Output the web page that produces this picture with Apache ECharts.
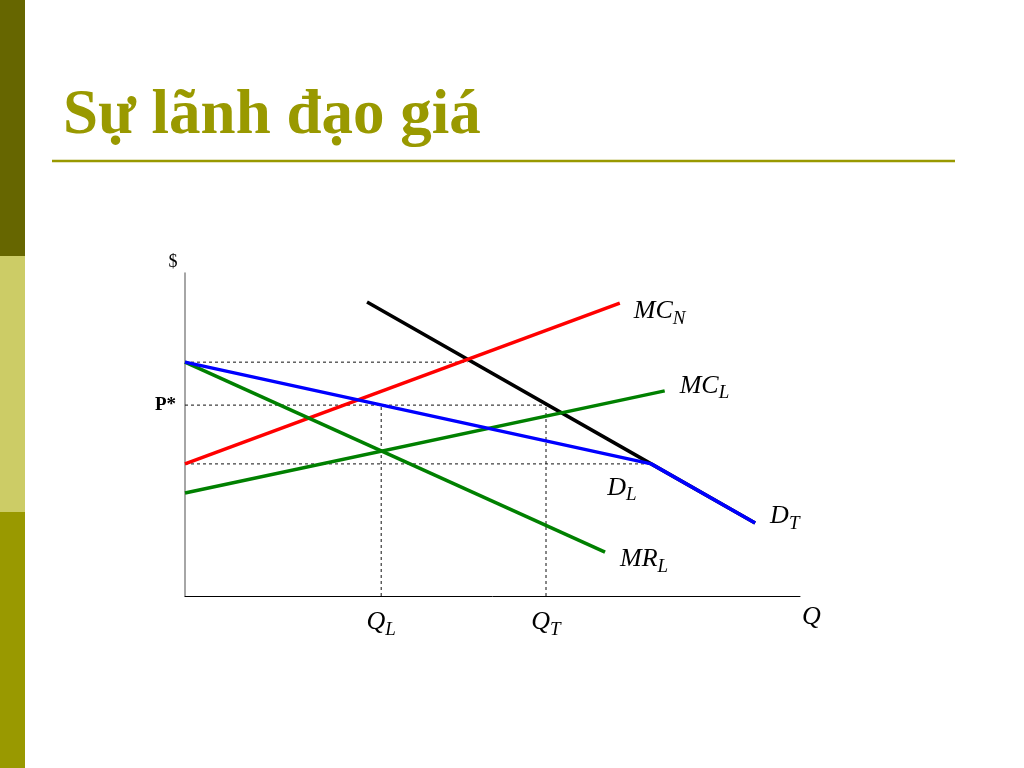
<!DOCTYPE html>
<html><head><meta charset="utf-8">
<script src="https://cdn.jsdelivr.net/npm/echarts@6/dist/echarts.min.js"></script>
<style>html,body{margin:0;padding:0;background:#fff}#c{width:1024px;height:768px}</style>
</head><body><div id="c"></div>
<script>
// ---- data (arbitrary units) ----
const titleText = 'Sự lãnh đạo giá';
const QL = 31.9, QT = 58.7, PSTAR = 59.1;
const dTotal  = [[29.6, 91.0], [75.8, 40.9], [92.7, 22.6]];
const dLeader = [[0, 72.4], [75.8, 40.9], [92.7, 22.6]];
const mcN = [[0, 40.9], [70.7, 90.7]];
const mcL = [[0, 31.9], [78.0, 63.5]];
const mrL = [[0, 72.4], [68.3, 13.6]];
const guides = [
  [[0, 72.4], [45.9, 72.4]],
  [[0, PSTAR], [QT, PSTAR]],
  [[0, 40.9], [75.8, 40.9]],
  [[QL, 0], [QL, PSTAR]],
  [[QT, 0], [QT, PSTAR]]
];
const xTickLabels = {[QL]: '{m|Q}{s|L}', [QT]: '{m|Q}{s|T}'};
const yTickLabels = {[PSTAR]: 'P*'};

// ---- styling ----
const SERIF = 'Liberation Serif';
const rich = {
  m: {fontFamily: SERIF, fontStyle: 'italic', fontSize: 26, lineHeight: 30, color: '#000', opacity: 1},
  s: {fontFamily: SERIF, fontStyle: 'italic', fontSize: 19, lineHeight: 19, padding: [15, 0, 0, 0], color: '#000', opacity: 1}
};
const curveLabels = [
  {point: mcN[mcN.length - 1], text: '{m|MC}{s|N}', offset: [14, 8]},
  {point: mcL[mcL.length - 1], text: '{m|MC}{s|L}', offset: [15, -5]},
  {point: dTotal[dTotal.length - 1], text: '{m|D}{s|T}', offset: [15, -7]},
  {point: mrL[mrL.length - 1], text: '{m|MR}{s|L}', offset: [15, 7]},
  {point: dLeader[1], text: '{m|D}{s|L}', offset: [-44, 24]}
];

const guideSeries = guides.map(g => ({
  type: 'line', data: g, symbol: 'none', silent: true, z: 1,
  lineStyle: {color: '#111', width: 1, type: [3, 3]}
}));
function curve(data, color, z) {
  return {type: 'line', data, symbol: 'none', silent: true, z,
    lineStyle: {color, width: 3.5}};
}

const chart = echarts.init(document.getElementById('c'), null, {renderer: 'canvas'});
chart.setOption({
  backgroundColor: '#fff',
  animation: false,
  grid: {left: 185, top: 273, width: 615, height: 323},
  xAxis: {
    type: 'value', min: 0, max: 100,
    name: '{m|Q}', nameLocation: 'end', nameGap: 2,
    nameTextStyle: {rich, color: '#000', padding: [42, 0, 0, 0]},
    axisLine: {show: true, lineStyle: {color: '#000', width: 1}},
    axisTick: {show: false}, splitLine: {show: false},
    axisLabel: {
      customValues: [QL, QT], margin: 11, rich, color: '#000',
      formatter: v => xTickLabels[v] || ''
    }
  },
  yAxis: {
    type: 'value', min: 0, max: 100,
    name: '$', nameLocation: 'end', nameGap: 2,
    nameTextStyle: {fontFamily: SERIF, fontSize: 18, color: '#000', padding: [0, 24, 0, 0]},
    axisLine: {show: true, lineStyle: {color: '#888', width: 1.5}},
    axisTick: {show: false}, splitLine: {show: false},
    axisLabel: {
      customValues: [PSTAR], margin: 9,
      fontFamily: SERIF, fontSize: 19, fontWeight: 'bold', color: '#000',
      padding: [0, 0, 18, 0],
      formatter: v => yTickLabels[v] || ''
    }
  },
  series: [
    ...guideSeries,
    curve(dTotal, '#000', 3),
    curve(mcN, '#ff0000', 4),
    curve(mcL, '#008000', 4),
    curve(mrL, '#008000', 4),
    curve(dLeader, '#0000ff', 5),
    {
      type: 'scatter', silent: true, z: 6, symbolSize: 0,
      itemStyle: {color: '#000', opacity: 1},
      data: curveLabels.map(c => ({
        value: c.point,
        label: {show: true, position: 'right', distance: 0, offset: c.offset,
          color: '#000', opacity: 1, formatter: c.text, rich}
      }))
    }
  ],
  graphic: [
    {type: 'rect', shape: {x: 0, y: 0, width: 25, height: 256}, style: {fill: '#666600'}},
    {type: 'rect', shape: {x: 0, y: 256, width: 25, height: 256}, style: {fill: '#cccc66'}},
    {type: 'rect', shape: {x: 0, y: 512, width: 25, height: 256}, style: {fill: '#999900'}},
    {type: 'text', x: 63, y: 117, style: {text: titleText, fill: '#999900',
      font: 'bold 63px "Liberation Serif"', verticalAlign: 'middle', align: 'left'}},
    {type: 'line', shape: {x1: 52, y1: 161, x2: 955, y2: 161},
      style: {stroke: '#999900', lineWidth: 2.5}}
  ]
});
</script></body></html>
